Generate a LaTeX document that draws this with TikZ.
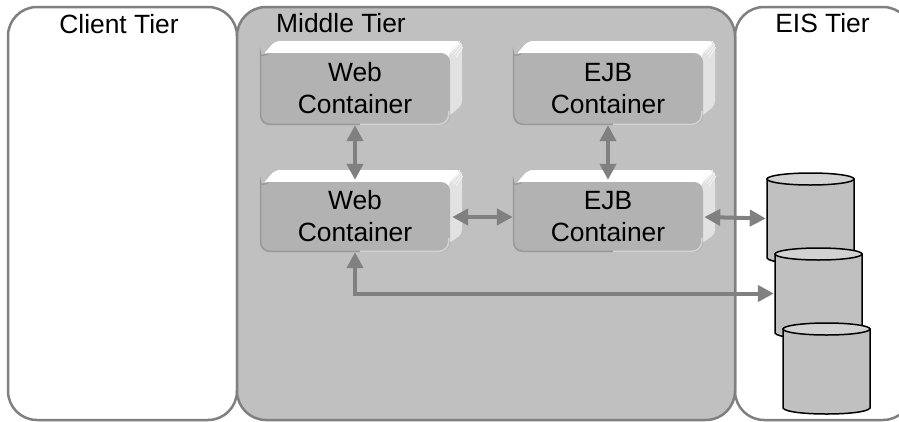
\documentclass[tikz,border=0pt]{standalone}
\usepackage{fontspec}
\setmainfont{Liberation Sans}
\usetikzlibrary{arrows.meta,shapes.geometric,calc}
\definecolor{edgegray}{HTML}{808080}
\definecolor{panelgray}{HTML}{C0C0C0}
\definecolor{boxgray}{HTML}{B2B2B2}
\definecolor{sidegray}{HTML}{E2E2E2}
\definecolor{dbtop}{HTML}{D2D2D2}
\tikzset{
  x=1pt,y=-1pt,
  panel/.style={draw=edgegray,line width=2.5pt,rounded corners=29pt},
  tierlabel/.style={font=\fontsize{26.4}{31}\selectfont,anchor=base,inner sep=0pt},
  front/.style={draw=none,fill=boxgray,rounded corners=9pt,minimum width=190pt,inner sep=0pt,align=center,
     font=\fontsize{26.4}{31.6}\selectfont},
  link/.style={draw=edgegray,line width=4pt,{Triangle[length=16pt,width=16pt]}-{Triangle[length=16pt,width=16pt]}},
  db/.style={draw=black,fill=panelgray,line width=1.5pt},
  dbcap/.style={draw=black,fill=dbtop,line width=1.5pt},
  bevel/.style={draw=edgegray!80,line width=1.5pt,line cap=round,rounded corners=9pt}
}
\newcommand{\ctr}[5]{% name, x, y, height, line1
  \fill[white,rounded corners=5pt] (#2+2,#3+3) -- (#2+15,#3-12) -- (#2+202,#3-12) -- (#2+190,#3+6) -- cycle;
  \fill[sidegray,rounded corners=4pt] (#2+188,#3+2) -- (#2+202,#3-12) -- (#2+202,#3+52) -- (#2+188,#3+#4-8) -- cycle;
  \foreach \k in {-2,0,...,4}{
    \draw[white!75!sidegray,line width=.6pt] (#2+192+\k,#3+\k) -- (#2+201+\k*.5,#3-10+\k);
  }
  \node[front,minimum height=#4 pt] (#1) at (#2+95,#3+#4/2) {\vphantom{b}#5\\Container\rule[-1.6pt]{0pt}{1.6pt}};
  \draw[bevel] (#2+8,#3+1) .. controls (#2+2,#3+2) and (#2+.7,#3+4) .. (#2+.7,#3+10) -- (#2+.7,#3+#4-.7) -- (#2+100,#3+#4-.7);
  \draw[edgegray!35,line width=1.5pt,rounded corners=9pt] (#2+100,#3+#4-.7) -- (#2+188,#3+#4-.7) -- (#2+189,#3+#4-14);
}
\newcommand{\cyl}[3]{% name, x, y of cap centre
  \draw[db] (#2,#3) -- (#2,#3+79) .. controls (#2+4,#3+87) and (#2+83,#3+87) .. (#2+87,#3+79) -- (#2+87,#3) -- cycle;
  \node[inner sep=0pt,minimum width=87pt,minimum height=79pt] (#1) at (#2+43.5,#3+39.5) {};
  \node[dbcap,ellipse,minimum width=87pt,minimum height=12pt,inner sep=0pt] (#1cap) at (#2+43.5,#3) {};
}
\begin{document}
\begin{tikzpicture}
\useasboundingbox (0,0) rectangle (899,421);
\path[panel,fill=white] (735,7) rectangle (912,420);
\path[panel,fill=white] (8,7) rectangle (237,420);
\path[panel,fill=panelgray] (237,7) rectangle (735,420);
\node[tierlabel] (tc) at (119,33) {Client Tier};
\node[tierlabel] (tm) at (341,32.5) {Middle Tier};
\node[tierlabel] (te) at (822.5,32.5) {EIS Tier};
\ctr{w1}{260}{53}{72}{Web}
\ctr{e1}{513}{53}{72}{EJB}
\ctr{w2}{260}{182}{70}{Web}
\ctr{e2}{513}{182}{70}{EJB}
\cyl{d1}{767}{179}
\cyl{d2}{775}{254}
\cyl{d3}{783}{329}
\draw[link,shorten >=2pt] (w1.south) -- (w2.north);
\draw[link,shorten >=2pt] (e1.south) -- (e2.north);
\draw[link,shorten <=2pt] (w2.east) -- (e2.west);
\draw[link,shorten <=1pt,shorten >=1pt] (e2.east) -- (d1.west);
\draw[link,shorten >=1pt] (w2.south) |- (d2.west);
\end{tikzpicture}
\end{document}
